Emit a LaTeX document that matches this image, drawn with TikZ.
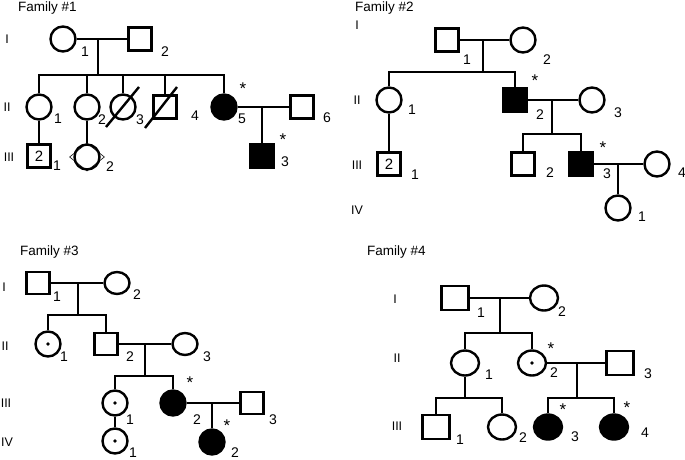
\documentclass[tikz,border=0pt]{standalone}
\usepackage{fontspec}
\setmainfont{Liberation Sans}
\usetikzlibrary{calc,shapes.geometric}
\tikzset{
	male/.style={draw, rectangle, line width=2.4pt, minimum width=23pt, minimum height=23pt, inner sep=0pt, font=\fontsize{15}{15}\selectfont},
	female/.style={draw, ellipse, line width=2.4pt, minimum width=25pt, minimum height=25pt, inner sep=0pt},
	affected/.style={fill=black},
	carrier/.style={path picture={\fill (path picture bounding box.center) circle (1.8pt);}},
	flat/.style={minimum height=22pt},
	wide/.style={minimum width=28pt, minimum height=25pt},
	widesq/.style={minimum width=27pt, minimum height=24pt},
	lab/.style={font=\fontsize{14}{15}\selectfont, inner sep=0pt},
	gen/.style={font=\fontsize{12.5}{15}\selectfont, inner sep=0pt},
	star/.style={font=\fontsize{17}{17}\selectfont, inner sep=0pt},
	famtitle/.style={font=\fontsize{13.5}{15}\selectfont, anchor=west, inner sep=0pt},
	line/.style={line width=1.1pt},
	slash/.style={line width=2.4pt}
}
\def\deceased(#1)(#2,#3)(#4,#5){\draw[slash] ($(#1)+(#2,#3)$) -- ($(#1)+(#4,#5)$);}

\begin{document}
\begin{tikzpicture}[x=1pt,y=-1pt]
	\useasboundingbox[fill=white] (0,0) rectangle (685,460);
	%%%%% FAMILY 1 %%%%%
	\node[famtitle] (f1t) at (18,8) {Family \#1};
	\node[gen] (f1g1) at (7,39) {I};
	\node[gen] (f1g2) at (7,107) {II};
	\node[gen] (f1g3) at (9,157) {III};
	
	\node[female] (f1I1) at (63,39) {};
	\node[male] (f1I2) at (140,39) {};
	\coordinate (f1m) at (98,39);
	\coordinate (f1s) at (98,75);
	\draw[line] (f1I1) -- (f1I2);
	\draw[line] (f1m) -- (f1s);
	
	\node[female] (f1II1) at (39,107) {};
	\node[female] (f1II2) at (87,107) {};
	\node[female] (f1II3) at (123,107) {};
	\node[male] (f1II4) at (165,107) {};
	\node[female,affected] (f1II5) at (224,107) {};
	\node[male] (f1II6) at (302,107) {};
	\foreach \c in {f1II1,f1II2,f1II3,f1II4,f1II5}
		\draw[line] (f1s) -| (\c);
	\deceased(f1II3)(-17,20)(16,-20)
	\deceased(f1II4)(-20,21)(12,-20)
	\draw[line] (f1II5) -- (f1II6);
	\coordinate (f1m2) at (262,107);
	
	\node[male] (f1III1) at (39,156) {2};
	\node[draw, diamond, line width=0.6pt, minimum width=35pt, minimum height=28pt, inner sep=0pt] (f1III2d) at (87,157) {};
	\node[female] (f1III2) at (87,157) {};
	\node[male,affected] (f1III3) at (262,156) {};
	\draw[line] (f1II1) -- (f1III1);
	\draw[line] (f1II2) -- (f1III2d);
	\draw[line] (f1m2) -- (f1III3);
	
	\node[lab] (f1n1) at (85,52) {1};
	\node[lab] (f1n2) at (165,52) {2};
	\node[lab] (f1n3) at (58,119) {1};
	\node[lab] (f1n4) at (102,120) {2};
	\node[lab] (f1n5) at (140,120) {3};
	\node[lab] (f1n6) at (195,116) {4};
	\node[lab] (f1n7) at (242,119) {5};
	\node[lab] (f1n8) at (327,118) {6};
	\node[lab] (f1n9) at (57,166) {1};
	\node[lab] (f1n10) at (110,167) {2};
	\node[lab] (f1n11) at (285,162) {3};
	\node[star] (f1a1) at (243,89) {*};
	\node[star] (f1a2) at (283,140) {*};
	
	%%%%% FAMILY 2 %%%%%
	\node[famtitle] (f2t) at (355,8) {Family \#2};
	\node[gen] (f2g1) at (357,25) {I};
	\node[gen] (f2g2) at (357,100) {II};
	\node[gen] (f2g3) at (357,165) {III};
	\node[gen] (f2g4) at (357,210) {IV};
	
	\node[male] (f2I1) at (447,40) {};
	\node[female] (f2I2) at (523,40) {};
	\coordinate (f2m) at (483,40);
	\coordinate (f2s) at (483,72);
	\draw[line] (f2I1) -- (f2I2);
	\draw[line] (f2m) -- (f2s);
	
	\node[female] (f2II1) at (389,100) {};
	\node[male,affected] (f2II2) at (515,100) {};
	\node[female] (f2II3) at (592,100) {};
	\foreach \c in {f2II1,f2II2}
		\draw[line] (f2s) -| (\c);
	\draw[line] (f2II2) -- (f2II3);
	\coordinate (f2m2) at (552,100);
	\coordinate (f2s2) at (552,134);
	\draw[line] (f2m2) -- (f2s2);
	
	\node[male] (f2III1) at (389,164) {2};
	\node[male] (f2III2) at (523,164) {};
	\node[male,affected] (f2III3) at (581,164) {};
	\node[female] (f2III4) at (657,164) {};
	\draw[line] (f2II1) -- (f2III1);
	\foreach \c in {f2III2,f2III3}
		\draw[line] (f2s2) -| (\c);
	\draw[line] (f2III3) -- (f2III4);
	\coordinate (f2m3) at (618,164);
	
	\node[female] (f2IV1) at (618,208) {};
	\draw[line] (f2m3) -- (f2IV1);
	
	\node[lab] (f2n1) at (467,60) {1};
	\node[lab] (f2n2) at (547,60) {2};
	\node[lab] (f2n3) at (412,110) {1};
	\node[lab] (f2n4) at (540,115) {2};
	\node[lab] (f2n5) at (618,113) {3};
	\node[lab] (f2n6) at (415,175) {1};
	\node[lab] (f2n7) at (550,173) {2};
	\node[lab] (f2n8) at (607,174) {3};
	\node[lab] (f2n9) at (682,173) {4};
	\node[lab] (f2n10) at (642,217) {1};
	\node[star] (f2a1) at (535,81) {*};
	\node[star] (f2a2) at (603,148) {*};
	
	%%%%% FAMILY 3 %%%%%
	\node[famtitle] (f3t) at (20,252) {Family \#3};
	\node[gen] (f3g1) at (4,287) {I};
	\node[gen] (f3g2) at (5,346) {II};
	\node[gen] (f3g3) at (6,403) {III};
	\node[gen] (f3g4) at (7,442) {IV};
	
	\node[male,flat] (f3I1) at (38,283) {};
	\node[female,flat] (f3I2) at (117,283) {};
	\coordinate (f3m) at (78,283);
	\coordinate (f3s) at (78,315);
	\draw[line] (f3I1) -- (f3I2);
	\draw[line] (f3m) -- (f3s);
	
	\node[female,carrier] (f3II1) at (48,344) {};
	\node[male,flat] (f3II2) at (106,344) {};
	\node[female,flat] (f3II3) at (185,344) {};
	\foreach \c in {f3II1,f3II2}
		\draw[line] (f3s) -| (\c);
	\draw[line] (f3II2) -- (f3II3);
	\coordinate (f3m2) at (145,344);
	\coordinate (f3s2) at (145,376);
	\draw[line] (f3m2) -- (f3s2);
	
	\node[female,carrier] (f3III1) at (115,403) {};
	\node[female,affected] (f3III2) at (173,403) {};
	\node[male,flat] (f3III3) at (252,403) {};
	\foreach \c in {f3III1,f3III2}
		\draw[line] (f3s2) -| (\c);
	\draw[line] (f3III2) -- (f3III3);
	\coordinate (f3m3) at (212,403);
	
	\node[female,carrier] (f3IV1) at (115,441) {};
	\node[female,affected] (f3IV2) at (212,442) {};
	\draw[line] (f3III1) -- (f3IV1);
	\draw[line] (f3m3) -- (f3IV2);
	
	\node[lab] (f3n1) at (57,297) {1};
	\node[lab] (f3n2) at (137,295) {2};
	\node[lab] (f3n3) at (64,357) {1};
	\node[lab] (f3n4) at (130,357) {2};
	\node[lab] (f3n5) at (207,357) {3};
	\node[lab] (f3n6) at (130,420) {1};
	\node[lab] (f3n7) at (197,420) {2};
	\node[lab] (f3n8) at (273,420) {3};
	\node[lab] (f3n9) at (133,453) {1};
	\node[lab] (f3n10) at (235,453) {2};
	\node[star] (f3a1) at (190,383) {*};
	\node[star] (f3a2) at (227,426) {*};
	
	%%%%% FAMILY 4 %%%%%
	\node[famtitle] (f4t) at (367,252) {Family \#4};
	\node[gen] (f4g1) at (395,299) {I};
	\node[gen] (f4g2) at (397,358) {II};
	\node[gen] (f4g3) at (397,426) {III};
	
	\node[male,widesq] (f4I1) at (455,298) {};
	\node[female,wide] (f4I2) at (544,298) {};
	\coordinate (f4m) at (500,298);
	\coordinate (f4s) at (500,333);
	\draw[line] (f4I1) -- (f4I2);
	\draw[line] (f4m) -- (f4s);
	
	\node[female,wide] (f4II1) at (465,363) {};
	\node[female,wide,carrier] (f4II2) at (532,363) {};
	\node[male,widesq] (f4II3) at (620,363) {};
	\foreach \c in {f4II1,f4II2}
		\draw[line] (f4s) -| (\c);
	\draw[line] (f4II2) -- (f4II3);
	\coordinate (f4m2) at (577,363);
	\coordinate (f4s2) at (577,398);
	\coordinate (f4s3) at (465,398);
	\draw[line] (f4m2) -- (f4s2);
	\draw[line] (f4II1) -- (f4s3);
	
	\node[male,widesq] (f4III1) at (436,427) {};
	\node[female,wide] (f4III2) at (502,427) {};
	\node[female,wide,affected] (f4III3) at (548,427) {};
	\node[female,wide,affected] (f4III4) at (614,427) {};
	\foreach \c in {f4III1,f4III2}
		\draw[line] (f4s3) -| (\c);
	\foreach \c in {f4III3,f4III4}
		\draw[line] (f4s2) -| (\c);
	
	\node[lab] (f4n1) at (481,313) {1};
	\node[lab] (f4n2) at (562,312) {2};
	\node[lab] (f4n3) at (489,375) {1};
	\node[lab] (f4n4) at (554,373) {2};
	\node[lab] (f4n5) at (648,374) {3};
	\node[lab] (f4n6) at (460,440) {1};
	\node[lab] (f4n7) at (523,438) {2};
	\node[lab] (f4n8) at (575,437) {3};
	\node[lab] (f4n9) at (645,433) {4};
	\node[star] (f4a1) at (551,349) {*};
	\node[star] (f4a2) at (563,410) {*};
	\node[star] (f4a3) at (627,408) {*};
\end{tikzpicture}
\end{document}
